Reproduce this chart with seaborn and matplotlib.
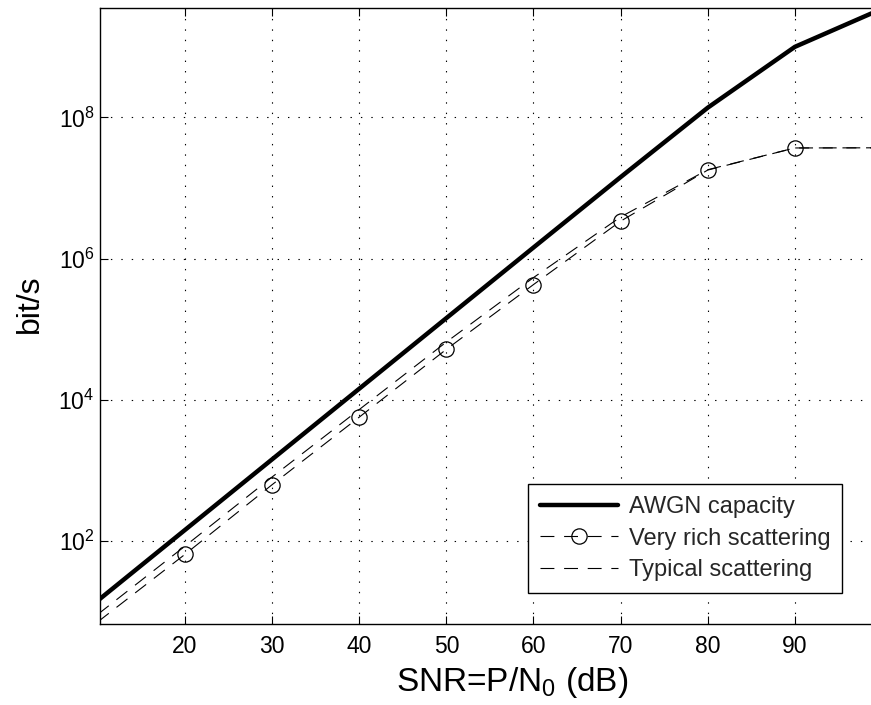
import numpy as np
import pandas as pd
import matplotlib
matplotlib.use("Agg")
import matplotlib.pyplot as plt
import seaborn as sns

# ---- data ----
snr_db = [10, 20, 30, 40, 50, 60, 70, 80, 90, 100]
awgn_capacity = [14.4, 144, 1.44e3, 1.44e4, 1.44e5, 1.44e6, 1.43e7, 1.375e8, 1.0e9, 3.46e9]
very_rich = [7.2, 65, 630, 5.7e3, 5.2e4, 4.3e5, 3.4e6, 1.8e7, 3.7e7, 3.72e7]
typical = [9.2, 85, 810, 7.3e3, 6.6e4, 5.4e5, 3.9e6, 1.82e7, 3.7e7, 3.72e7]

x_ticks = [20, 30, 40, 50, 60, 70, 80, 90]
y_ticks = [1e2, 1e4, 1e6, 1e8]
y_tick_labels = [r"$10^{2}$", r"$10^{4}$", r"$10^{6}$", r"$10^{8}$"]
labels = ["AWGN capacity", "Very rich scattering", "Typical scattering"]

df = pd.DataFrame({"snr": snr_db, "awgn": awgn_capacity,
                   "rich": very_rich, "typical": typical})

sns.set_theme(style="white")
plt.rcParams["font.family"] = ["Liberation Sans", "DejaVu Sans"]
plt.rcParams["mathtext.fontset"] = "custom"
plt.rcParams["mathtext.rm"] = "Liberation Sans"
plt.rcParams["mathtext.it"] = "Liberation Sans"
plt.rcParams["lines.scale_dashes"] = False

fig = plt.figure(figsize=(8.71, 7.05), dpi=100)
W, H = 871, 705
ax = fig.add_axes([100 / W, 1 - 624 / H, 782 / W, 616 / H])

sns.lineplot(data=df, x="snr", y="awgn", ax=ax, color="black", lw=3.2,
             label=labels[0])
sns.lineplot(data=df, x="snr", y="rich", ax=ax, color="black", lw=0.8,
             marker="o", markersize=11, markerfacecolor="none",
             markeredgecolor="black", markeredgewidth=0.9,
             markevery=list(range(1, 9)), label=labels[1])
sns.lineplot(data=df, x="snr", y="typical", ax=ax, color="black", lw=0.8,
             label=labels[2])

lines = ax.get_lines()
lines[1].set_dashes((10, 7))
lines[2].set_dashes((10, 7))

ax.set_yscale("log")
ax.set_xlim(10.25, 100)
ax.set_ylim(6.71, 3.55e9)
ax.set_xticks(x_ticks)
ax.set_xticklabels([str(t) for t in x_ticks], fontsize=16.5)
ax.set_yticks(y_ticks)
ax.set_yticklabels(y_tick_labels, fontsize=16.5)
ax.yaxis.set_minor_locator(matplotlib.ticker.NullLocator())
ax.tick_params(axis="both", which="major", direction="in", length=6,
               width=0.8, color="black", top=True, right=True,
               bottom=True, left=True, labelcolor="black")
ax.tick_params(axis="x", pad=8)
ax.tick_params(axis="y", pad=4)

ax.grid(True, which="major", color="black", linestyle=(0, (1, 6.5)), lw=0.8)
for s in ax.spines.values():
    s.set_color("black")
    s.set_linewidth(1.0)
    s.set_visible(True)

ax.set_xlabel(r"SNR=P/N$_0$ (dB)", fontsize=24, color="black")
ax.xaxis.set_label_coords(0.527, -0.066)
ax.set_ylabel("bit/s", fontsize=23, color="black")
ax.yaxis.set_label_coords(-0.07, 0.52)

leg = ax.legend(loc="lower right", bbox_to_anchor=((842 - 100) / 782, (624 - 593) / 616),
                fontsize=17, frameon=True, fancybox=False, framealpha=1,
                edgecolor="black", handlelength=3.3, borderpad=0.5,
                labelspacing=0.4, handletextpad=0.45, borderaxespad=0.0)
leg.get_frame().set_linewidth(1.0)
leg.get_frame().set_boxstyle("square", pad=0)

fig.savefig("out.png", dpi=100)
